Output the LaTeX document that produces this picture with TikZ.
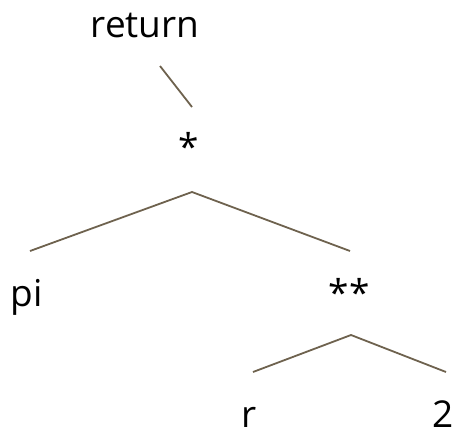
\documentclass[tikz,border=0pt]{standalone}
\usepackage{fontspec}
\setmainfont{Open Sans}
\definecolor{edgecol}{RGB}{110,98,78}
\begin{document}
\begin{tikzpicture}[x=1pt,y=-1pt,
  lbl/.style={anchor=base,inner sep=0pt,font=\fontsize{37}{40}\selectfont,text=black},
  edge/.style={draw=edgecol,line width=1.8pt}]
\useasboundingbox (0,0) rectangle (456,429);
\node[lbl] (ret) at (145,37) {return};
\node[lbl] (mul) at (189,160) {*};
\node[lbl] (pi) at (27,306) {pi};
\node[lbl] (pow) at (349,306) {**};
\node[lbl] (r) at (249,427) {r};
\node[lbl] (two) at (443,427) {2};
% connector end points
\coordinate (ret-s) at (160,66);
\coordinate (mul-n) at (192,107);
\coordinate (mul-s) at (192,192);
\coordinate (pi-n) at (30,251);
\coordinate (pow-n) at (350,251);
\coordinate (pow-s) at (351,335);
\coordinate (r-n) at (253,372);
\coordinate (two-n) at (446,372);
\draw[edge] (ret-s) -- (mul-n);
\draw[edge] (pi-n) -- (mul-s) -- (pow-n);
\draw[edge] (r-n) -- (pow-s) -- (two-n);
\end{tikzpicture}
\end{document}
